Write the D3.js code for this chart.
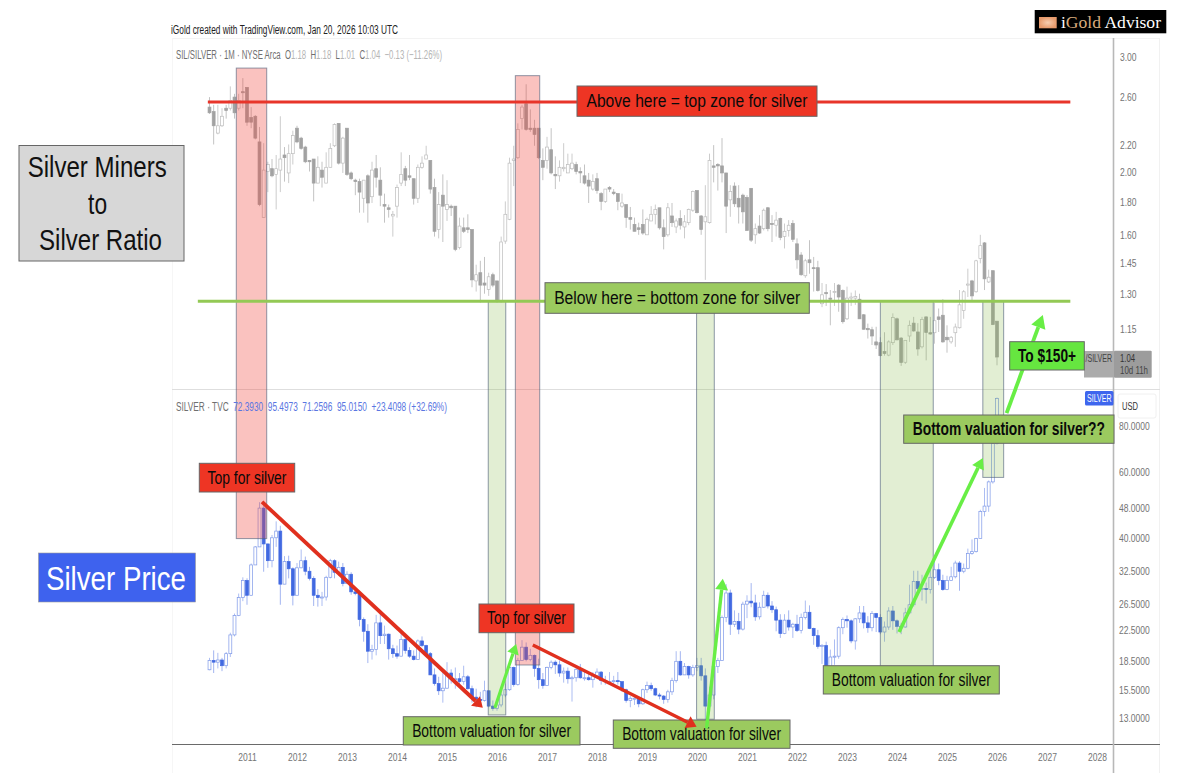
<!DOCTYPE html>
<html><head><meta charset="utf-8">
<style>html,body{margin:0;padding:0;background:#fff}svg{display:block}text{font-family:"Liberation Sans",Arial,sans-serif;white-space:pre}</style>
<script src="https://d3js.org/d3.v7.min.js"></script></head><body>
<svg id="c" width="1200" height="773"></svg>
<script>
// Monthly bars, first bar = April 2010, last bar = January 2026.
const firstYear = 2010, firstMonth = 3;

const ratioOpen = [
2.51,2.47,2.29,2.35,2.50,2.50,2.60,2.50,2.65,2.69,
2.42,2.43,2.22,1.70,2.00,2.02,1.98,2.01,2.12,1.99,
2.13,2.33,2.25,2.18,2.08,2.09,1.92,2.01,1.92,2.03,
2.19,2.37,2.06,2.33,1.99,1.94,1.93,1.82,1.97,1.83,
2.02,1.94,1.78,1.76,1.71,1.77,1.92,2.02,1.97,1.95,
1.82,2.03,2.09,2.08,1.89,1.63,1.84,1.75,1.77,1.77,
1.53,1.64,1.64,1.63,1.36,1.40,1.35,1.32,1.39,1.36,
1.27,1.565,1.69,2.08,2.10,2.41,2.54,2.33,2.33,2.33,
2.08,2.08,2.16,1.98,1.97,2.02,1.99,2.02,2.05,2.00,
1.97,1.94,1.88,1.95,1.85,1.80,1.89,1.86,1.85,1.77,
1.78,1.70,1.66,1.64,1.66,1.60,1.68,1.72,1.76,1.64,
1.60,1.71,1.645,1.695,1.645,1.67,1.745,1.87,1.71,1.675,
1.67,2.04,2.05,2.04,1.99,1.81,1.90,1.82,1.84,1.825,
1.885,1.60,1.65,1.635,1.76,1.665,1.655,1.695,1.59,1.625,
1.665,1.55,1.49,1.385,1.465,1.425,1.425,1.255,1.305,1.28,
1.305,1.34,1.315,1.19,1.28,1.28,1.275,1.207,1.15,1.145,
1.097,1.094,1.06,1.047,1.094,1.19,1.112,1.021,1.12,1.172,
1.136,1.078,1.198,1.133,1.133,1.198,1.205,1.115,1.097,1.133,
1.153,1.225,1.34,1.36,1.309,1.472,1.555,1.355,1.41,1.18];
const ratioClose = [
2.46,2.35,2.35,2.43,2.48,2.57,2.46,2.57,2.64,2.38,
2.38,2.25,1.78,2.01,2.05,1.97,2.02,2.09,2.10,2.13,
2.27,2.22,2.17,2.07,2.07,1.92,2.03,1.96,2.03,2.17,
2.36,2.06,2.25,1.98,1.95,1.93,1.86,1.94,1.79,2.01,
1.96,1.84,1.77,1.75,1.72,1.89,1.98,1.94,1.96,1.82,
2.03,2.06,2.12,1.88,1.62,1.78,1.77,1.78,1.76,1.52,
1.65,1.62,1.63,1.365,1.39,1.34,1.34,1.38,1.34,1.27,
1.56,1.72,2.06,2.09,2.32,2.51,2.32,2.32,2.28,2.10,
2.03,2.18,1.99,1.97,2.03,2.03,2.05,2.06,2.00,1.99,
1.92,1.90,1.93,1.87,1.80,1.88,1.88,1.85,1.80,1.79,
1.70,1.69,1.62,1.63,1.61,1.69,1.72,1.75,1.64,1.59,
1.76,1.67,1.68,1.655,1.675,1.75,1.865,1.73,1.63,1.705,
2.08,2.03,2.04,1.99,1.77,1.865,1.785,1.765,1.735,1.625,
1.57,1.635,1.61,1.745,1.635,1.66,1.685,1.585,1.62,1.655,
1.575,1.465,1.39,1.46,1.45,1.42,1.315,1.295,1.30,1.275,
1.31,1.285,1.178,1.28,1.285,1.287,1.19,1.147,1.145,1.12,
1.085,1.045,1.053,1.097,1.195,1.105,1.02,1.103,1.163,1.14,
1.07,1.187,1.134,1.128,1.182,1.187,1.097,1.105,1.115,1.156,
1.25,1.309,1.345,1.29,1.46,1.54,1.37,1.378,1.166,1.04];
const ratioHigh = [
2.60,2.53,2.53,2.50,2.53,2.70,2.63,2.63,2.78,2.69,
2.51,2.44,2.34,2.21,2.07,2.09,2.12,2.43,2.18,2.20,
2.31,2.35,2.26,2.19,2.08,2.09,2.11,2.07,2.14,2.21,
2.37,2.37,2.26,2.33,2.00,1.95,1.95,1.94,1.98,2.07,
2.12,2.03,1.85,1.78,1.74,1.91,2.14,2.04,2.12,1.95,
2.05,2.11,2.19,2.08,1.95,1.86,1.98,1.94,1.78,1.77,
1.70,1.70,1.72,1.63,1.44,1.46,1.48,1.40,1.40,1.36,
1.59,1.80,2.10,2.19,2.37,2.53,2.72,2.49,2.40,2.33,
2.17,2.26,2.33,2.11,2.08,2.21,2.13,2.13,2.07,2.03,
2.05,1.99,1.98,1.99,1.86,1.88,1.90,1.88,1.85,1.85,
1.78,1.765,1.70,1.67,1.75,1.70,1.77,1.78,1.76,1.69,
1.79,1.79,1.695,1.745,1.715,1.755,1.87,1.87,1.715,1.906,
2.13,2.195,2.06,2.25,1.99,1.906,1.925,1.906,1.85,1.84,
1.885,1.665,1.715,1.755,1.765,1.715,1.735,1.70,1.665,1.685,
1.685,1.58,1.505,1.47,1.57,1.48,1.46,1.35,1.345,1.317,
1.35,1.345,1.32,1.333,1.305,1.315,1.30,1.21,1.17,1.157,
1.157,1.115,1.135,1.103,1.213,1.195,1.115,1.103,1.183,1.198,
1.172,1.198,1.20,1.198,1.26,1.234,1.275,1.163,1.12,1.17,
1.317,1.317,1.42,1.365,1.465,1.60,1.56,1.415,1.41,1.18];
const ratioLow = [
2.45,2.20,2.28,2.34,2.41,2.48,2.41,2.48,2.50,2.35,
2.33,2.24,1.77,1.70,1.86,1.96,1.75,1.86,1.93,1.92,
2.05,2.21,2.16,2.06,2.00,1.80,1.92,1.89,1.92,2.03,
2.18,2.05,1.99,1.97,1.94,1.84,1.73,1.73,1.67,1.79,
1.89,1.77,1.67,1.70,1.59,1.70,1.90,1.90,1.94,1.78,
1.79,2.02,2.09,1.85,1.59,1.58,1.56,1.68,1.71,1.51,
1.52,1.61,1.61,1.33,1.31,1.26,1.30,1.29,1.33,1.26,
1.26,1.55,1.685,1.90,2.09,2.32,2.31,2.30,2.19,2.09,
1.94,2.02,1.98,1.88,1.93,2.00,1.99,2.01,1.98,1.92,
1.91,1.79,1.87,1.85,1.745,1.79,1.86,1.84,1.745,1.76,
1.64,1.63,1.62,1.60,1.60,1.60,1.68,1.66,1.63,1.52,
1.59,1.645,1.61,1.63,1.58,1.655,1.735,1.725,1.60,1.365,
1.665,1.925,1.87,1.925,1.61,1.705,1.765,1.665,1.665,1.625,
1.56,1.55,1.605,1.625,1.62,1.56,1.59,1.57,1.525,1.59,
1.56,1.42,1.385,1.375,1.395,1.31,1.31,1.24,1.245,1.163,
1.245,1.22,1.17,1.185,1.245,1.25,1.19,1.145,1.11,1.085,
1.07,1.042,1.045,1.043,1.085,1.103,1.008,1.015,1.097,1.137,
1.045,1.072,1.028,1.125,1.09,1.136,1.094,1.056,1.09,1.078,
1.15,1.19,1.285,1.265,1.305,1.447,1.317,1.35,1.164,1.01];

const silverFirstOpen = 17.55;
const silverClose = [
18.6,18.4,18.65,18.0,19.4,21.8,24.6,27.5,30.6,27.9,
33.7,37.7,48.0,38.4,34.6,39.9,41.6,29.9,34.4,32.9,
27.9,33.1,34.6,32.4,31.0,27.9,27.5,27.6,31.2,34.6,
32.2,33.2,30.0,31.8,28.5,28.2,24.0,22.3,19.7,19.9,
23.5,21.7,21.9,20.0,19.4,19.1,21.2,19.8,19.1,18.7,
21.0,20.4,19.4,17.0,16.1,15.4,15.65,17.2,16.6,16.6,
16.3,16.8,15.6,14.8,14.6,14.5,15.4,14.0,13.8,14.1,
15.0,15.5,17.8,16.0,18.6,20.2,18.7,19.2,17.7,16.5,
15.9,17.8,18.4,18.1,17.2,17.4,16.6,16.7,17.6,16.7,
16.7,16.5,16.9,17.3,16.4,16.3,16.3,16.4,16.3,15.5,
14.5,14.7,14.7,14.2,15.5,15.9,15.6,15.0,14.9,14.6,
15.3,16.4,18.5,17.0,17.9,17.0,17.8,18.0,16.9,14.0,
15.0,17.9,18.6,24.3,28.3,23.3,23.7,22.6,26.4,26.9,
26.6,24.4,25.9,27.9,26.1,25.5,23.9,22.0,23.9,22.9,
23.3,22.4,24.3,25.1,22.7,21.7,20.3,20.4,17.9,19.0,
19.1,22.8,24.0,23.8,21.0,24.1,25.0,23.5,22.8,24.9,
24.3,22.2,22.9,25.3,23.8,23.0,22.9,25.0,26.3,30.4,
29.1,29.1,28.9,31.2,32.7,30.6,28.9,30.6,31.3,34.1,
32.4,33.0,36.2,36.6,39.7,47.0,48.6,56.5,71.7,95.0];
const silverHigh = [
18.9,19.8,19.5,18.9,19.6,22.1,24.9,28.2,31.2,31.0,
34.0,37.9,49.8,48.6,38.5,40.6,44.2,43.0,35.6,35.7,
33.2,34.1,37.1,35.5,33.3,31.4,29.0,28.5,31.5,35.0,
34.9,34.4,34.1,32.4,32.2,29.3,28.3,24.3,23.3,20.5,
24.7,25.2,23.1,22.0,20.5,20.4,22.2,21.9,20.2,19.8,
21.2,21.6,20.5,19.6,17.7,16.8,17.5,18.4,17.6,17.8,
17.2,18.0,17.0,15.9,15.6,15.3,16.4,15.4,14.5,14.6,
15.6,16.1,18.0,17.9,18.9,21.1,20.8,20.0,19.3,18.8,
17.2,17.9,18.6,18.6,18.6,17.8,17.8,16.9,17.9,18.2,
17.5,17.3,17.3,17.7,17.4,16.9,17.3,16.9,17.3,16.0,
15.6,14.9,15.0,14.7,15.6,16.3,16.2,15.7,15.2,15.0,
15.5,16.7,19.7,19.7,18.3,18.0,18.1,18.9,18.9,17.7,
15.8,18.0,18.9,24.6,29.9,28.9,25.4,25.0,26.8,27.9,
30.1,28.0,26.7,28.7,28.4,26.9,26.0,24.8,24.8,25.4,
23.5,24.7,24.9,27.0,26.2,22.8,22.5,20.6,20.9,19.9,
21.2,23.0,24.3,24.6,24.0,24.2,26.1,26.1,24.5,25.3,
25.0,24.8,23.7,25.9,26.1,24.0,23.5,25.8,29.8,32.5,
32.5,31.7,30.2,32.7,34.9,34.0,31.7,31.5,33.3,34.6,
34.5,34.0,37.3,39.5,39.9,47.5,54.4,57.0,83.9,95.5];
const silverLow = [
17.5,17.2,17.7,17.4,17.7,19.0,21.6,24.5,26.9,26.3,
27.9,33.9,37.7,32.3,33.1,33.2,37.7,26.3,29.9,31.0,
26.2,28.0,33.0,31.6,30.6,26.1,26.0,26.1,27.0,31.0,
31.0,31.5,29.5,29.9,28.0,27.9,23.0,20.9,18.3,18.7,
19.2,20.6,20.6,18.7,18.9,18.8,19.1,19.4,18.9,18.6,
18.7,20.2,19.2,17.0,15.9,15.0,14.3,15.6,16.1,15.6,
15.7,16.0,15.5,14.3,13.9,14.0,14.4,13.9,13.6,13.6,
13.9,14.8,15.4,15.8,15.9,18.6,18.5,18.5,16.8,15.6,
15.6,15.9,17.6,17.1,16.8,16.2,16.1,14.4,16.3,16.6,
16.4,16.4,15.7,16.9,16.0,16.0,16.0,16.0,16.0,15.3,
14.3,13.9,14.1,13.9,14.1,15.2,15.4,14.9,14.6,14.2,
14.3,15.0,16.2,16.9,17.0,16.6,16.8,17.4,16.4,11.7,
13.9,14.6,17.2,18.6,23.6,21.8,22.9,21.9,22.4,24.2,
25.9,23.8,24.0,25.8,25.7,25.0,22.3,21.4,21.9,22.4,
21.4,22.2,22.0,24.0,22.6,20.5,20.0,18.2,17.6,17.6,
18.1,18.8,21.9,22.8,20.7,19.9,23.5,22.7,22.1,22.3,
22.2,21.9,20.9,22.5,22.5,22.0,21.9,22.8,25.2,26.0,
28.6,27.0,26.5,28.2,30.9,29.7,28.7,28.8,30.8,31.0,
28.7,32.0,32.8,35.9,36.4,40.0,45.6,46.9,55.9,71.3];

const yearTicks = [2011,2012,2013,2014,2015,2016,2017,2018,2019,2020,2021,2022,2023,2024,2025,2026,2027,2028];
const ratioTicks = [3.00,2.60,2.20,2.00,1.80,1.60,1.45,1.30,1.15];
const silverTicks = [80,60,48,40,32.5,26.5,22.5,18.5,15.5,13];

// Scales
const monthIndex = (y,m=0) => (y-firstYear)*12 + m - firstMonth;
const x = d3.scaleLinear().domain([0,189]).range([209.5,997]);
const yR = d3.scaleLog().domain([3,1.15]).range([56.5,328.5]);
const yS = d3.scaleLog().domain([80,13]).range([426,718]);

const svg = d3.select('#c');
const g = svg.append('g');

// Frame
const frame = g.append('g');
const hl=(y,x1,x2,c,w)=>frame.append('line').attr('x1',x1).attr('x2',x2).attr('y1',y).attr('y2',y).attr('stroke',c).attr('stroke-width',w);
const vl=(xx,y1,y2,c,w)=>frame.append('line').attr('x1',xx).attr('x2',xx).attr('y1',y1).attr('y2',y2).attr('stroke',c).attr('stroke-width',w);
hl(38.5,172,1160,'#f3f3f3',1); vl(1159.5,38,773,'#f1f1f1',1); vl(172.5,38,773,'#f6f6f6',1);
hl(389.5,172,1160,'#dedede',1);

// Candles
function candles(o,h,l,c,y,st){
  const gg=g.append('g');
  const rows=d3.range(c.length).map(i=>({i,o:o[i],h:h[i],l:l[i],c:c[i]}));
  gg.selectAll('line').data(rows).join('line')
    .attr('x1',d=>x(d.i)).attr('x2',d=>x(d.i))
    .attr('y1',d=>y(d.h)).attr('y2',d=>y(d.l))
    .attr('stroke',d=>d.c<d.o?st.wickDown:st.wickUp).attr('stroke-width',0.9);
  gg.selectAll('rect').data(rows).join('rect')
    .attr('x',d=>x(d.i)-1.45).attr('width',2.9)
    .attr('y',d=>Math.min(y(d.o),y(d.c)))
    .attr('height',d=>Math.max(1,Math.abs(y(d.o)-y(d.c))))
    .attr('fill',d=>d.c<d.o?st.down:'#fff')
    .attr('stroke',d=>d.c<d.o?st.down:st.up).attr('stroke-width',0.7);
}
candles(ratioOpen,ratioHigh,ratioLow,ratioClose,yR,{down:'#a2a2a2',up:'#bdbdbd',wickDown:'#bcbcbc',wickUp:'#c6c6c6'});
const silverOpen = silverClose.map((v,i)=>i?silverClose[i-1]:silverFirstOpen);
candles(silverOpen,silverHigh,silverLow,silverClose,yS,{down:'#4169e1',up:'#7d98e8',wickDown:'#98adee',wickUp:'#a3b6f0'});

// Axes
function sq(sel,f){sel.each(function(){const t=this;const n=t.getComputedTextLength();t.setAttribute('textLength',n*f);t.setAttribute('lengthAdjust','spacingAndGlyphs');});}
const ax1=g.append('g').attr('transform','translate(1120,0)').call(d3.axisRight(yR).tickValues(ratioTicks).tickSize(0).tickPadding(0).tickFormat(d3.format('.2f')));
const ax2=g.append('g').attr('transform','translate(1119,0)').call(d3.axisRight(yS).tickValues(silverTicks).tickSize(0).tickPadding(0).tickFormat(d3.format('.4f')));
const ax3=g.append('g').attr('transform','translate(0,744.5)').call(d3.axisBottom(x).tickValues(yearTicks.map(v=>monthIndex(v))).tickSize(0).tickPadding(8).tickFormat(v=>yearTicks[yearTicks.findIndex(t=>monthIndex(t)===v)]));
[ax1,ax2,ax3].forEach(a=>{a.select('.domain').remove();const t=a.selectAll('text').attr('font-size',11.5).attr('fill','#747474').style('font-family','"Liberation Sans",Arial,sans-serif');sq(t,0.74);});

// Zones, expressed in months and prices
const zones=[
 {a:6.43,b:13.73,top:yR(2.88),bot:yS(39.7),fill:'rgba(240,70,60,0.33)'},
 {a:73.4,b:79.25,top:yR(2.804),bot:yS(18.08),fill:'rgba(240,70,60,0.33)'},
 {a:66.9,b:71.1,top:yR(1.266),bot:yS(13.25),fill:'rgba(135,185,70,0.24)'},
 {a:116.9,b:121.15,top:yR(1.266),bot:yS(12.9),fill:'rgba(135,185,70,0.24)'},
 {a:161,b:173.7,top:yR(1.266),bot:yS(17.75),fill:'rgba(135,185,70,0.24)'},
 {a:185.6,b:190.6,top:yR(1.266),bot:yS(58.1),fill:'rgba(135,185,70,0.24)'}];
g.append('g').selectAll('rect').data(zones).join('rect')
 .attr('x',d=>x(d.a)).attr('width',d=>x(d.b)-x(d.a)).attr('y',d=>d.top).attr('height',d=>d.bot-d.top)
 .attr('fill',d=>d.fill).attr('stroke','rgba(85,100,125,0.65)').attr('stroke-width',1);

// Threshold lines
g.append('line').attr('x1',x(-0.4)).attr('x2',x(206.6)).attr('y1',yR(2.555)).attr('y2',yR(2.555)).attr('stroke','#e8352a').attr('stroke-width',3);
g.append('line').attr('x1',x(-2.8)).attr('x2',x(206.6)).attr('y1',yR(1.266)).attr('y2',yR(1.266)).attr('stroke','#93c955').attr('stroke-width',3);

// Bottom axis rule and vertical price rule
g.append('line').attr('x1',172).attr('x2',1160).attr('y1',744.5).attr('y2',744.5).attr('stroke','#6a6a6a').attr('stroke-width',1);
g.append('line').attr('x1',1113.5).attr('x2',1113.5).attr('y1',38).attr('y2',773).attr('stroke','#b8b8b8').attr('stroke-width',1.6);

// Arrows
function arrow(a,pa,b,pb,c,w,hl,hw){
  const x1=x(a),y1=yS(pa),x2=x(b),y2=yS(pb);
  const ang=Math.atan2(y2-y1,x2-x1),ux=Math.cos(ang),uy=Math.sin(ang);
  const bx=x2-ux*hl,by=y2-uy*hl;
  const ag=g.append('g').attr('class','arrow');
  ag.append('line').attr('x1',x1).attr('y1',y1).attr('x2',bx).attr('y2',by).attr('stroke',c).attr('stroke-width',w);
  ag.append('polygon').attr('fill',c).attr('points',[[x2,y2],[bx-uy*hw,by+ux*hw],[bx+uy*hw,by-ux*hw]].map(p=>p.join(',')).join(' '));
}
const RED='#e0301e',GRN='#68ee45';
// This one passes behind the two label boxes at the right
arrow(191.3,86.7,200,159.6,GRN,3.8,13,7.5);

// Right-hand tags (under the green label boxes)
g.append('rect').attr('x',1084).attr('y',351).attr('width',30).attr('height',26.5).attr('fill','#ababab');
g.append('rect').attr('x',1114).attr('y',350.7).attr('width',37.7).attr('height',27).attr('rx',1).attr('fill','#9c9c9c');
function t(s,xx,yy,o={}){
  const e=g.append('text').attr('x',xx).attr('y',yy).text(s).attr('font-size',o.size||11).attr('fill',o.fill||'#000')
    .attr('text-anchor',o.anchor||'start').attr('font-weight',o.weight||'normal');
  if(o.family)e.style('font-family',o.family);
  if(o.len){e.attr('textLength',o.len).attr('lengthAdjust','spacingAndGlyphs');}
  return e;
}
t('/SILVER',1085.5,362,{size:10,fill:'#444',len:26.5});
t('1.04',1120,362,{size:11,fill:'#333',len:15});
t('10d 11h',1120,374,{size:11,fill:'#444',len:28});
g.append('rect').attr('x',1085).attr('y',391).attr('width',28.5).attr('height',14.5).attr('rx',1.5).attr('fill','#3e66ee');
t('SILVER',1087,402,{size:10.5,fill:'#fff',len:24.5});
g.append('rect').attr('x',1118).attr('y',394).attr('width',38).attr('height',24).attr('rx',2).attr('fill','#fff').attr('stroke','#f0f0f0');
t('USD',1122,410,{size:11.5,fill:'#333',len:16});

// Labelled boxes
const boxes=[
 {s:'Above here = top zone for silver',x0:577,x1:817,y0:86,y1:116.3,f:'#ee3524',w:221},
 {s:'Below here = bottom zone for silver',x0:545,x1:809.3,y0:282.7,y1:313.3,f:'#9bca5f',w:246},
 {s:'To $150+',x0:1009.7,x1:1084.3,y0:341.7,y1:370,f:'#66e640',w:58,b:1},
 {s:'Bottom valuation for silver??',x0:903.7,x1:1114,y0:415,y1:443.3,f:'#9bca5f',w:192,b:1},
 {s:'Top for silver',x0:199.3,x1:294.7,y0:463.3,y1:492,f:'#ee3524',w:79},
 {s:'Top for silver',x0:479,x1:574,y0:604,y1:632.7,f:'#ee3524',w:79},
 {s:'Bottom valuation for silver',x0:403.3,x1:580,y0:716.7,y1:745,f:'#9bca5f',w:159},
 {s:'Bottom valuation for silver',x0:613.3,x1:790,y0:720,y1:748.3,f:'#9bca5f',w:159},
 {s:'Bottom valuation for silver',x0:823.3,x1:999.3,y0:665.7,y1:694,f:'#9bca5f',w:159}];
boxes.forEach(b=>{
  g.append('rect').attr('x',b.x0).attr('y',b.y0).attr('width',b.x1-b.x0).attr('height',b.y1-b.y0).attr('fill',b.f).attr('stroke','#666').attr('stroke-width',1);
  t(b.s,(b.x0+b.x1)/2,(b.y0+b.y1)/2+6,{size:17.5,anchor:'middle',len:b.w,weight:b.b?'bold':'normal',fill:'#0a0a0a'});
});

// These arrows lie over the label boxes
arrow(12.6,49.9,65.6,13.85,RED,3.8,10,6.5);
arrow(77.6,20.47,116.9,12.32,RED,3.4,10,6.5);
arrow(68.5,13.85,73.6,20.6,GRN,3.2,10,6);
arrow(119.3,12.2,123.2,30.9,GRN,3.4,11,6.5);
arrow(165.5,22.2,185.6,65.6,GRN,3.6,11,6.5);

// Panel titles
g.append('rect').attr('x',19).attr('y',145.5).attr('width',165).attr('height',115.5).attr('fill','#d7d7d7').attr('stroke','#666').attr('stroke-width',1);
t('Silver Miners',97.2,177,{size:30,anchor:'middle',len:139,fill:'#111'});
t('to',97.6,214,{size:30,anchor:'middle',len:19,fill:'#111'});
t('Silver Ratio',100.5,250,{size:30,anchor:'middle',len:123,fill:'#111'});
g.append('rect').attr('x',38.5).attr('y',553).attr('width',157).attr('height',49).attr('fill','#3e62ee').attr('stroke','#999').attr('stroke-width',.6);
t('Silver Price',116,590,{size:33,anchor:'middle',len:140,fill:'#fff'});

// Header and legends (one text element each, coloured by run)
t('iGold created with TradingView.com, Jan 20, 2026 10:03 UTC',171,33.5,{size:12.5,fill:'#222',len:227});
function legend(runs,xx,yy,len){
  const e=t('',xx,yy,{size:12.5,len});
  runs.forEach(r=>e.append('tspan').attr('fill',r[1]).text(r[0]));
}
const DK='#6f6f6f',LT='#b5b5b5',BL='#5a76e2';
legend([['SIL/SILVER · 1M · NYSE Arca  ',DK],['O',DK],['1.18  ',LT],['H',DK],['1.18  ',LT],['L',DK],['1.01  ',LT],['C',DK],['1.04  −0.13 (−11.26%)',LT]],176,59,266);
legend([['SILVER · TVC  ',DK],['72.3930  95.4973  71.2596  95.0150  +23.4098 (+32.69%)',BL]],176,411,271);

// Logo
g.append('rect').attr('x',1034.7).attr('y',10).attr('width',131.6).attr('height',23.3).attr('fill','#000');
const defs=svg.append('defs').append('radialGradient').attr('id','lg');
defs.append('stop').attr('offset','0%').attr('stop-color','#f6cdb0');defs.append('stop').attr('offset','100%').attr('stop-color','#e79a6c');
g.append('rect').attr('x',1039).attr('y',17).attr('width',17.7).attr('height',11.3).attr('fill','url(#lg)');
const logo=t('',1061,27.5,{size:17,family:'"Liberation Serif",serif',len:100});
logo.append('tspan').attr('fill','#fff').text('i');
logo.append('tspan').attr('fill','#d9ac7e').text('Gold');
logo.append('tspan').attr('fill','#fff').text(' Advisor');
</script></body></html>
